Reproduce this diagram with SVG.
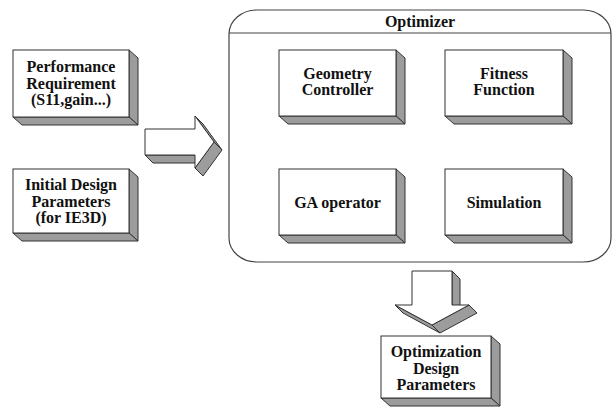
<svg xmlns="http://www.w3.org/2000/svg" width="612" height="409" viewBox="0 0 612 409">
  <style>
    .front { fill: #ffffff; stroke: #333333; stroke-width: 1; }
    .side { fill: #9c9c9c; stroke: #333333; stroke-width: 1; stroke-linejoin: round; }
    .frame { fill: #ffffff; stroke: #444444; stroke-width: 1.2; }
    .lbl { font-family: 'Liberation Serif', 'DejaVu Serif', serif; font-weight: 700; font-size: 16px; fill: #111111; text-anchor: middle; }
  </style>
  <rect width="612" height="409" fill="#ffffff"/>

  <!-- optimizer container -->
  <g id="optimizer">
    <rect class="frame" x="229" y="10" width="382" height="252" rx="28" ry="24"/>
    <line x1="229" y1="33" x2="611" y2="33" stroke="#444444" stroke-width="1.2"/>
    <text class="lbl" x="420" y="27">Optimizer</text>
  </g>

  <g id="performance-requirement">
    <path class="side" d="M129,50 L138,58 L138,125 L129,117 Z"/>
    <path class="side" d="M13,117 L129,117 L138,125 L22,125 Z"/>
    <rect class="front" x="13" y="50" width="116" height="67"/>
    <text class="lbl" x="71" y="72">Performance</text>
    <text class="lbl" x="71" y="88.5">Requirement</text>
    <text class="lbl" x="71" y="105">(S11,gain...)</text>
  </g>

  <g id="initial-design-parameters">
    <path class="side" d="M129,169 L138,177 L138,241 L129,233 Z"/>
    <path class="side" d="M13,233 L129,233 L138,241 L22,241 Z"/>
    <rect class="front" x="13" y="169" width="116" height="64"/>
    <text class="lbl" x="71" y="190">Initial Design</text>
    <text class="lbl" x="71" y="206.5">Parameters</text>
    <text class="lbl" x="71" y="223">(for IE3D)</text>
  </g>

  <g id="geometry-controller">
    <path class="side" d="M396,50 L405,58 L405,124 L396,116 Z"/>
    <path class="side" d="M279,116 L396,116 L405,124 L288,124 Z"/>
    <rect class="front" x="279" y="50" width="117" height="66"/>
    <text class="lbl" x="337.5" y="79">Geometry</text>
    <text class="lbl" x="337.5" y="95">Controller</text>
  </g>

  <g id="fitness-function">
    <path class="side" d="M563,50 L572,58 L572,124 L563,116 Z"/>
    <path class="side" d="M445,116 L563,116 L572,124 L454,124 Z"/>
    <rect class="front" x="445" y="50" width="118" height="66"/>
    <text class="lbl" x="504" y="79">Fitness</text>
    <text class="lbl" x="504" y="95">Function</text>
  </g>

  <g id="ga-operator">
    <path class="side" d="M396,169 L405,177 L405,243 L396,235 Z"/>
    <path class="side" d="M279,235 L396,235 L405,243 L288,243 Z"/>
    <rect class="front" x="279" y="169" width="117" height="66"/>
    <text class="lbl" x="337.5" y="207.5">GA operator</text>
  </g>

  <g id="simulation">
    <path class="side" d="M563,169 L572,177 L572,243 L563,235 Z"/>
    <path class="side" d="M445,235 L563,235 L572,243 L454,243 Z"/>
    <rect class="front" x="445" y="169" width="118" height="66"/>
    <text class="lbl" x="504" y="207.5">Simulation</text>
  </g>

  <g id="optimization-design-parameters">
    <path class="side" d="M491,336 L500,344 L500,406 L491,398 Z"/>
    <path class="side" d="M381,398 L491,398 L500,406 L390,406 Z"/>
    <rect class="front" x="381" y="336" width="110" height="62"/>
    <text class="lbl" x="436" y="357">Optimization</text>
    <text class="lbl" x="436" y="373.5">Design</text>
    <text class="lbl" x="436" y="390">Parameters</text>
  </g>

  <!-- block arrows -->
  <g id="connectors">
    <g id="arrow-inputs-to-optimizer">
      <path class="side" d="M145,155 L195,155 L203,163 L153,163 Z"/>
      <path class="side" d="M195,116 L214,142 L222,150 L203,124 Z"/>
      <path class="side" d="M214,142 L195,168 L203,176 L222,150 Z"/>
      <path class="front" d="M145,129 L195,129 L195,116 L214,142 L195,168 L195,155 L145,155 Z"/>
    </g>
    <g id="arrow-optimizer-to-output">
      <path class="side" d="M452,271 L460,279 L460,313 L452,305 Z"/>
      <path class="side" d="M469,305 L477,313 L440,333 L432,325 Z"/>
      <path class="side" d="M395,305 L432,325 L440,333 L403,313 Z"/>
      <path class="front" d="M412,271 L452,271 L452,305 L469,305 L432,325 L395,305 L412,305 Z"/>
    </g>
  </g>
</svg>
